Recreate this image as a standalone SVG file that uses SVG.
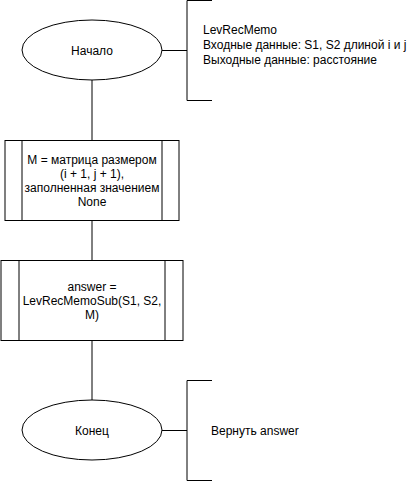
<svg xmlns="http://www.w3.org/2000/svg" width="415" height="481" viewBox="0 0 415 481">
<style>
.s{fill:#fff;stroke:#000;stroke-width:1}
.l{fill:none;stroke:#000;stroke-width:1}
text{font-family:"Liberation Sans",Arial,sans-serif;font-size:12px;fill:#000}
.c{text-anchor:middle}
</style>
<rect width="415" height="481" fill="#fff"/>
<g id="connectors">
<line class="l" x1="92" y1="80" x2="92" y2="140"/>
<line class="l" x1="92" y1="220" x2="92" y2="260"/>
<line class="l" x1="92" y1="340" x2="92" y2="400"/>
<line class="l" x1="162" y1="50.5" x2="187" y2="50.5"/>
<line class="l" x1="162" y1="430.5" x2="187" y2="430.5"/>
</g>
<g id="start">
<ellipse class="s" cx="92" cy="50" rx="70" ry="30"/>
<text class="c" x="92" y="54.5">Начало</text>
</g>
<g id="note1">
<path class="l" d="M212,0.5 H187 V100.5 H212"/>
<text x="203" y="34">LevRecMemo</text>
<text x="203" y="49">Входные данные: S1, S2 длиной i и j</text>
<text x="203" y="64">Выходные данные: расстояние</text>
</g>
<g id="proc1">
<rect class="s" x="5" y="140.5" width="174" height="80"/>
<line class="l" x1="22" y1="140.5" x2="22" y2="220.5"/>
<line class="l" x1="162" y1="140.5" x2="162" y2="220.5"/>
<text class="c" x="92" y="164">M = матрица размером</text>
<text class="c" x="92" y="178">(i + 1, j + 1),</text>
<text class="c" x="92" y="192">заполненная значением</text>
<text class="c" x="92" y="206">None</text>
</g>
<g id="proc2">
<rect class="s" x="1" y="260.5" width="182" height="80"/>
<line class="l" x1="19" y1="260.5" x2="19" y2="340.5"/>
<line class="l" x1="165" y1="260.5" x2="165" y2="340.5"/>
<text class="c" x="92" y="291">answer =</text>
<text class="c" x="92" y="305">LevRecMemoSub(S1, S2,</text>
<text class="c" x="92" y="319">M)</text>
</g>
<g id="end">
<ellipse class="s" cx="92" cy="430" rx="70" ry="30"/>
<text class="c" x="92" y="434.5">Конец</text>
</g>
<g id="note2">
<path class="l" d="M212,380.5 H187 V480.5 H212"/>
<text x="211" y="435">Вернуть answer</text>
</g>
</svg>
